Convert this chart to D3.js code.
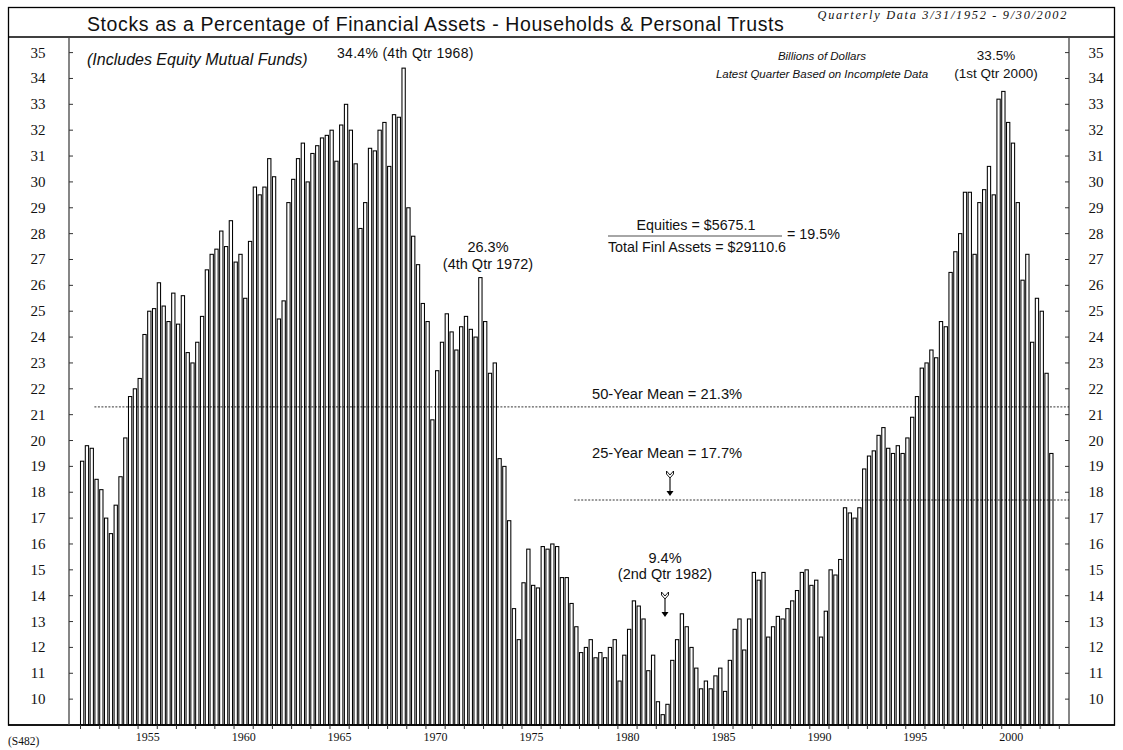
<!DOCTYPE html>
<html><head><meta charset="utf-8">
<script src="https://cdn.jsdelivr.net/npm/d3@7/dist/d3.min.js"></script>
<style>body{margin:0;background:#fff}svg{display:block}</style>
</head><body><svg id="c" width="1123" height="750"></svg>
<script>
// ---- DATA (percent, quarterly, Q1 1952 .. Q3 2002) ----
const firstYear = 1952;
const pct1950s = [19.2,19.8,19.7,18.5, 18.1,17.0,16.4,17.5, 18.6,20.1,21.7,22.0, 22.4,24.1,25.0,25.1,
                  26.1,25.2,24.6,25.7, 24.5,25.6,23.4,23.0, 23.8,24.8,26.6,27.2, 27.4,28.1,27.5,28.5];
const pct1960s = [26.9,27.2,25.5,27.7, 29.8,29.5,29.8,30.9, 30.2,24.7,25.4,29.2, 30.1,30.9,31.5,30.0,
                  31.1,31.4,31.7,31.8, 32.0,30.8,32.2,33.0, 32.0,30.7,28.2,29.2, 31.3,31.2,32.0,32.3,
                  30.6,32.6,32.5,34.4, 29.0,27.9,26.8,25.3];
const pct1970s = [24.6,20.8,22.7,23.8, 24.9,24.2,23.5,24.4, 24.8,24.3,24.0,26.3, 24.6,22.6,23.0,19.3,
                  19.0,16.9,13.5,12.3, 14.5,15.8,14.4,14.3, 15.9,15.8,16.0,15.9, 14.7,14.7,13.7,12.8,
                  11.8,12.0,12.3,11.6, 11.8,11.6,12.0,12.3];
const pct1980s = [10.7,11.7,12.7,13.8, 13.6,13.1,11.1,11.7, 9.9,9.4,9.8,11.5, 12.3,13.3,12.8,12.0,
                  11.2,10.4,10.7,10.4, 10.9,11.2,10.3,11.5, 12.7,13.1,11.9,13.1, 14.9,14.6,14.9,12.4,
                  12.8,13.2,13.1,13.5, 13.8,14.2,14.9,15.0];
const pct1990s = [14.4,14.6,12.4,13.4, 15.0,14.8,15.4,17.4, 17.2,17.0,17.4,18.9, 19.4,19.6,20.2,20.5,
                  19.7,19.5,19.8,19.5, 20.1,20.9,21.7,22.8, 23.0,23.5,23.2,24.6, 24.4,26.5,27.3,28.0,
                  29.6,29.6,27.2,29.2, 29.7,30.6,29.5,33.2];
const pct2000s = [33.5,32.3,31.5,29.2, 26.2,27.2,23.8,25.5, 25.0,22.6,19.5];
const yTickValues = [10,11,12,13,14,15,16,17,18,19,20,21,22,23,24,25,26,27,28,29,30,31,32,33,34,35];
const xLabelYears = [1955,1960,1965,1970,1975,1980,1985,1990,1995,2000];
const meanLines = [{label:"50-Year Mean = 21.3%", value:21.3, from:1952.75},
                   {label:"25-Year Mean = 17.7%", value:17.7, from:1977.75}];

const allPct = [].concat(pct1950s,pct1960s,pct1970s,pct1980s,pct1990s,pct2000s);
const data = allPct.map((v,i)=>({t:firstYear+i/4, v}));

// ---- LAYOUT ----
const svg = d3.select('#c');
const L = 69, R = 1069, T = 37, B = 725;
const x = d3.scaleLinear().domain([1952, 2002.75]).range([80, 1054]);
const y = d3.scaleLinear().domain([9, 35]).range([B, 52.6]);
const step = x(1952.25) - x(1952);
const bw = step - 1.5;
const SANS = "'Liberation Sans', Arial, sans-serif";
const SERIF = "'Liberation Serif', 'Times New Roman', serif";
const ink = "#111";

// bars
svg.append('g').selectAll('rect').data(data).join('rect')
  .attr('x', d => x(d.t) + 0.5)
  .attr('y', d => y(d.v))
  .attr('width', bw)
  .attr('height', d => B - y(d.v))
  .attr('fill', '#fff').attr('stroke', '#000').attr('stroke-width', 1.05);

// frame
svg.append('rect').attr('x',8.5).attr('y',7.5).attr('width',1106).attr('height',B-7.5)
  .attr('fill','none').attr('stroke','#000').attr('stroke-width',1.3);
svg.append('line').attr('x1',8).attr('x2',1115).attr('y1',T).attr('y2',T).attr('stroke','#000').attr('stroke-width',1.3);
svg.append('line').attr('x1',8).attr('x2',1115).attr('y1',B).attr('y2',B).attr('stroke','#000').attr('stroke-width',1.3);
[L,R].forEach(xx => svg.append('line').attr('x1',xx).attr('x2',xx).attr('y1',T).attr('y2',B).attr('stroke','#444').attr('stroke-width',1.3));

// y ticks & labels
const yt = svg.append('g');
yTickValues.forEach(v => {
  yt.append('line').attr('x1',L).attr('x2',L+4).attr('y1',y(v)).attr('y2',y(v)).attr('stroke','#333');
  yt.append('line').attr('x1',R-4).attr('x2',R).attr('y1',y(v)).attr('y2',y(v)).attr('stroke','#333');
  yt.append('text').attr('x',38).attr('y',y(v)+5).attr('text-anchor','middle')
    .attr('font-family',SERIF).attr('font-size',15).attr('fill',ink).text(v);
  yt.append('text').attr('x',1096).attr('y',y(v)+5).attr('text-anchor','middle')
    .attr('font-family',SERIF).attr('font-size',15).attr('fill',ink).text(v);
});

// x axis ticks (yearly) and labels (mid-year)
const xAxis = d3.axisBottom(x).tickValues(d3.range(1952, 2004)).tickSize(4).tickFormat('');
const gx = svg.append('g').attr('transform',`translate(0,${B})`).call(xAxis);
gx.select('.domain').remove();
gx.selectAll('line').attr('stroke','#333');
const lab = d3.axisBottom(x).tickValues(xLabelYears.map(yy=>yy+0.5)).tickSize(0).tickFormat(d=>Math.floor(d));
const gl = svg.append('g').attr('transform',`translate(0,${B})`).call(lab);
gl.select('.domain').remove();
gl.selectAll('text').attr('font-family',SERIF).attr('font-size',12).attr('fill',ink).attr('dy',0).attr('y',16);

// mean lines
meanLines.forEach(m => {
  svg.append('line').attr('x1',x(m.from)).attr('x2',R).attr('y1',y(m.value)).attr('y2',y(m.value))
    .attr('stroke','#000').attr('stroke-width',0.8).attr('stroke-dasharray','2,1.5');
});

// text helper
function txt(s, xx, yy, opt={}) {
  return svg.append('text').attr('x',xx).attr('y',yy).text(s)
    .attr('font-family', opt.serif ? SERIF : SANS)
    .attr('font-size', opt.size || 13)
    .attr('font-style', opt.italic ? 'italic' : 'normal')
    .attr('text-anchor', opt.anchor || 'start')
    .attr('letter-spacing', opt.ls || 0)
    .attr('fill', ink);
}
txt("Stocks as a Percentage of Financial Assets - Households & Personal Trusts", 87, 31, {size:19.5, ls:0.6});
txt("Quarterly Data 3/31/1952 - 9/30/2002", 1068, 19, {serif:true, italic:true, size:12.3, anchor:'end', ls:1.7});
txt("(Includes Equity Mutual Funds)", 87, 65, {italic:true, size:16});
txt("34.4% (4th Qtr 1968)", 337, 58, {size:14, ls:0.3});
txt("Billions of Dollars", 822, 60, {italic:true, size:11.5, anchor:'middle'});
txt("Latest Quarter Based on Incomplete Data", 822, 78, {italic:true, size:11.5, anchor:'middle'});
txt("33.5%", 996, 60, {size:13.5, anchor:'middle'});
txt("(1st Qtr 2000)", 996, 78, {size:13.5, anchor:'middle'});
txt("Equities = $5675.1", 696, 230, {size:14.3, anchor:'middle'});
svg.append('line').attr('x1',608).attr('x2',782).attr('y1',236).attr('y2',236).attr('stroke','#000').attr('stroke-width',0.7);
txt("= 19.5%", 787, 239, {size:14.3});
txt("Total Finl Assets = $29110.6", 697, 252, {size:14.3, anchor:'middle'});
txt("26.3%", 488, 252, {size:14.5, anchor:'middle'});
txt("(4th Qtr 1972)", 488, 269, {size:14.5, anchor:'middle'});
txt(meanLines[0].label, 592, 399, {size:14.7});
txt(meanLines[1].label, 592, 458, {size:14.7});
txt("9.4%", 665, 563, {size:14.5, anchor:'middle'});
txt("(2nd Qtr 1982)", 665, 579, {size:14.5, anchor:'middle'});
txt("(S482)", 8, 745, {serif:true, size:11.5});

// arrows
function arrow(cx, top, tip) {
  const g = svg.append('g');
  g.append('path').attr('d',`M${cx-3.5},${top} L${cx},${top+4} L${cx+3.5},${top} L${cx+3.5},${top+3} L${cx},${top+7} L${cx-3.5},${top+3} Z`)
    .attr('fill','#fff').attr('stroke','#000').attr('stroke-width',0.9);
  g.append('line').attr('x1',cx).attr('x2',cx).attr('y1',top+7).attr('y2',tip-3).attr('stroke','#000').attr('stroke-width',1.1);
  g.append('path').attr('d',`M${cx-3.5},${tip-5} L${cx+3.5},${tip-5} L${cx},${tip} Z`).attr('fill','#000');
}
arrow(670, 471, 496);
arrow(665, 592, 617);
</script></body></html>
